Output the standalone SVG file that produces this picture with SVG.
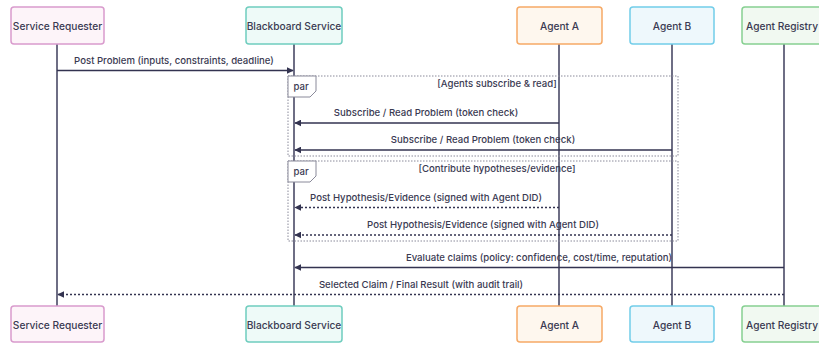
<svg xmlns="http://www.w3.org/2000/svg" width="819" height="343" viewBox="0 0 819 343">
<defs>
<marker id="ah" viewBox="0 0 10 10" refX="9" refY="5" markerWidth="7" markerHeight="7" orient="auto-start-reverse" markerUnits="userSpaceOnUse">
<path d="M0,0 L10,5 L0,10 z" fill="#333350"/>
</marker>
<style>
text{font-family:Inter,"Open Sans","Noto Sans",sans-serif;fill:#3a3a52;}
.actor text{font-size:10.2px;font-weight:500;text-anchor:middle;dominant-baseline:central;}
.life{stroke:#4a4a66;stroke-width:1.6;}
.msg{stroke:#333350;stroke-width:1.3;fill:none;}
.dash{stroke-dasharray:2,2;}
.mt{font-size:9.6px;font-weight:500;text-anchor:middle;}
.frame{fill:none;stroke:#8a8a9a;stroke-width:1;stroke-dasharray:1.5,1.5;}
.tab{fill:#ffffff;stroke:#8a8a9a;stroke-width:1;}
.ft{font-size:9.6px;font-weight:500;text-anchor:middle;}
</style>
</defs>
<rect width="819" height="343" fill="#ffffff"/>
<g id="lifelines">
<line class="life" x1="57" y1="44" x2="57" y2="306"/>
<line class="life" x1="294" y1="44" x2="294" y2="306"/>
<line class="life" x1="559" y1="44" x2="559" y2="306"/>
<line class="life" x1="672" y1="44" x2="672" y2="306"/>
<line class="life" x1="784" y1="44" x2="784" y2="306"/>
</g>
<g id="frames">
<rect class="frame" x="288" y="76" width="390" height="80"/>
<path class="tab" d="M288,76 H316 V91 L310,97 H288 Z"/>
<text class="ft" x="301" y="90">par</text>
<text class="ft" x="497" y="87">[Agents subscribe &amp; read]</text>
<rect class="frame" x="288" y="161" width="390" height="80"/>
<path class="tab" d="M288,161 H316 V176 L310,182 H288 Z"/>
<text class="ft" x="301" y="175">par</text>
<text class="ft" x="497" y="172">[Contribute hypotheses/evidence]</text>
</g>
<g id="connectors">
<line class="msg" x1="57" y1="70.5" x2="293" y2="70.5" marker-end="url(#ah)"/>
<text class="mt" x="174" y="64">Post Problem (inputs, constraints, deadline)</text>
<line class="msg" x1="559" y1="123" x2="295" y2="123" marker-end="url(#ah)"/>
<text class="mt" x="426" y="116">Subscribe / Read Problem (token check)</text>
<line class="msg" x1="672" y1="150" x2="295" y2="150" marker-end="url(#ah)"/>
<text class="mt" x="483" y="143">Subscribe / Read Problem (token check)</text>
<line class="msg dash" x1="559" y1="207.5" x2="295" y2="207.5" marker-end="url(#ah)"/>
<text class="mt" x="426" y="201">Post Hypothesis/Evidence (signed with Agent DID)</text>
<line class="msg dash" x1="672" y1="235" x2="295" y2="235" marker-end="url(#ah)"/>
<text class="mt" x="483" y="228">Post Hypothesis/Evidence (signed with Agent DID)</text>
<line class="msg" x1="784" y1="267.5" x2="295" y2="267.5" marker-end="url(#ah)"/>
<text class="mt" x="539" y="261">Evaluate claims (policy: confidence, cost/time, reputation)</text>
<line class="msg dash" x1="784" y1="294.5" x2="58" y2="294.5" marker-end="url(#ah)"/>
<text class="mt" x="421" y="288">Selected Claim / Final Result (with audit trail)</text>
</g>
<g id="service-requester" class="actor">
<rect x="11" y="7" width="93" height="37" rx="3" fill="#fdf4f9" stroke="#d99bcd" stroke-width="1.5"/>
<text x="57.5" y="25.5">Service Requester</text>
</g>
<g id="blackboard-service" class="actor">
<rect x="246" y="7" width="96" height="37" rx="3" fill="#eefaf8" stroke="#6fcdbe" stroke-width="1.5"/>
<text x="294" y="25.5">Blackboard Service</text>
</g>
<g id="agent-a" class="actor">
<rect x="517" y="7" width="85" height="37" rx="3" fill="#fef7ee" stroke="#f6a965" stroke-width="1.5"/>
<text x="559.5" y="25.5">Agent A</text>
</g>
<g id="agent-b" class="actor">
<rect x="630" y="7" width="84" height="37" rx="3" fill="#eef8fc" stroke="#72cde9" stroke-width="1.5"/>
<text x="672" y="25.5">Agent B</text>
</g>
<g id="agent-registry" class="actor">
<rect x="742" y="7" width="84" height="37" rx="3" fill="#f1f9f1" stroke="#86d091" stroke-width="1.5"/>
<text x="782" y="25.5">Agent Registry</text>
</g>
<g id="service-requester-bottom" class="actor">
<rect x="11" y="306" width="93" height="36" rx="3" fill="#fdf4f9" stroke="#d99bcd" stroke-width="1.5"/>
<text x="57.5" y="324.5">Service Requester</text>
</g>
<g id="blackboard-service-bottom" class="actor">
<rect x="246" y="306" width="96" height="36" rx="3" fill="#eefaf8" stroke="#6fcdbe" stroke-width="1.5"/>
<text x="294" y="324.5">Blackboard Service</text>
</g>
<g id="agent-a-bottom" class="actor">
<rect x="517" y="306" width="85" height="36" rx="3" fill="#fef7ee" stroke="#f6a965" stroke-width="1.5"/>
<text x="559.5" y="324.5">Agent A</text>
</g>
<g id="agent-b-bottom" class="actor">
<rect x="630" y="306" width="84" height="36" rx="3" fill="#eef8fc" stroke="#72cde9" stroke-width="1.5"/>
<text x="672" y="324.5">Agent B</text>
</g>
<g id="agent-registry-bottom" class="actor">
<rect x="742" y="306" width="84" height="36" rx="3" fill="#f1f9f1" stroke="#86d091" stroke-width="1.5"/>
<text x="782" y="324.5">Agent Registry</text>
</g>
</svg>
